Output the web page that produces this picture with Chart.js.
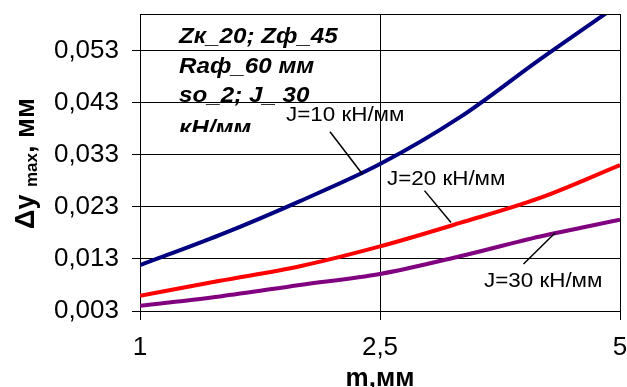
<!DOCTYPE html>
<html>
<head>
<meta charset="utf-8">
<script src="https://cdn.jsdelivr.net/npm/chart.js@4.4.1/dist/chart.umd.min.js"></script>
<style>
  html, body { margin: 0; padding: 0; background: #fff; }
  canvas { display: block; }
</style>
</head>
<body>
<canvas id="chart" width="627" height="387"></canvas>
<script>
// m, mm (categories; only 1, 2,5 and 5 get ticks)
const mLabels = ['1', '1,5', '2', '2,5', '3', '4', '5'];
const xTickIdx = [0, 3, 6];
const yTicks = [0.003, 0.013, 0.023, 0.033, 0.043, 0.053];

// delta y max, mm
const j10 = [0.0118, 0.0176, 0.0241, 0.0312, 0.0402, 0.0513, 0.0620];
const j20 = [0.0059, 0.0088, 0.0116, 0.0154, 0.0199, 0.0247, 0.0310];
const j30 = [0.0040, 0.0058, 0.0080, 0.0101, 0.0135, 0.0173, 0.0205];

const seriesNames = ['J=10 кН/мм', 'J=20 кН/мм', 'J=30 кН/мм'];
const infoLines = ['Zк_20; Zф_45', 'Raф_60 мм', 'so_2; J_ 30', 'кН/мм'];

const FONT = "'Liberation Sans', Arial, sans-serif";

// label anchors in data units: [text x, text y, line x1, y1, x2, y2]
const labelAnchors = [
  [1.825, 0.0395, 2.375, 0.0374, 2.784, 0.0292],
  [3.0875, 0.0271, 3.556, 0.0261, 3.8875, 0.0200],
  [4.30, 0.00758, 4.794, 0.01203, 5.1875, 0.01797]
];

const extras = {
  id: 'extras',
  afterDraw(chart) {
    const { ctx, chartArea: a, scales: { x, y } } = chart;
    ctx.save();

    // top border of plot
    ctx.strokeStyle = '#000';
    ctx.lineWidth = 1;
    ctx.beginPath();
    ctx.moveTo(a.left, Math.round(a.top) + 0.5);
    ctx.lineTo(a.right, Math.round(a.top) + 0.5);
    ctx.stroke();

    // info text box, cut off like in the original
    ctx.save();
    ctx.beginPath();
    ctx.rect(a.left + 1, a.top + 1, 220, 117);
    ctx.clip();
    ctx.fillStyle = '#000';
    ctx.font = 'italic bold 22px ' + FONT;
    ctx.textBaseline = 'alphabetic';
    const baselines = [29, 58.5, 88, 121];
    infoLines.forEach((t, i) => {
      ctx.save();
      ctx.translate(a.left + 39, a.top + baselines[i]);
      ctx.scale(1.1, 1);
      ctx.fillText(t, 0, 0);
      ctx.restore();
    });
    ctx.restore();

    // series labels with leader lines
    ctx.font = '20px ' + FONT;
    ctx.fillStyle = '#000';
    ctx.strokeStyle = '#000';
    ctx.lineWidth = 1.5;
    labelAnchors.forEach((p, i) => {
      ctx.beginPath();
      ctx.moveTo(x.getPixelForValue(p[2]), y.getPixelForValue(p[3]));
      ctx.lineTo(x.getPixelForValue(p[4]), y.getPixelForValue(p[5]));
      ctx.stroke();
      ctx.save();
      ctx.translate(x.getPixelForValue(p[0]), y.getPixelForValue(p[1]));
      ctx.scale(1.12, 1);
      ctx.fillText(seriesNames[i], 0, 0);
      ctx.restore();
    });

    // x axis title
    ctx.font = 'bold 26px ' + FONT;
    ctx.textAlign = 'center';
    ctx.fillText('m,мм', (a.left + a.right) / 2, 386);

    // y axis title: Δy max, мм (rotated, with subscript)
    ctx.save();
    ctx.translate(34, 229);
    ctx.rotate(-Math.PI / 2);
    ctx.textAlign = 'left';
    let cx = 0;
    ctx.font = 'bold 27px ' + FONT;
    ctx.fillText('Δy ', cx, 0);
    cx += ctx.measureText('Δy ').width;
    ctx.font = 'bold 17px ' + FONT;
    ctx.fillText('max', cx, 3);
    cx += ctx.measureText('max').width;
    ctx.font = 'bold 27px ' + FONT;
    ctx.fillText(', мм', cx, 0);
    ctx.restore();

    ctx.restore();
  }
};

new Chart(document.getElementById('chart'), {
  type: 'line',
  data: {
    labels: mLabels,
    datasets: [
      { label: seriesNames[0], data: j10, borderColor: '#000080' },
      { label: seriesNames[1], data: j20, borderColor: '#ff0000' },
      { label: seriesNames[2], data: j30, borderColor: '#800080' }
    ]
  },
  options: {
    responsive: false,
    animation: false,
    devicePixelRatio: 1,
    layout: { padding: { top: 14, right: 7, left: 0, bottom: 0 } },
    elements: {
      line: { borderWidth: 4, cubicInterpolationMode: 'monotone', fill: false },
      point: { radius: 0 }
    },
    datasets: { line: { clip: 0 } },
    plugins: { legend: { display: false }, tooltip: { enabled: false } },
    scales: {
      x: {
        type: 'category',
        offset: false,
        afterBuildTicks: s => { s.ticks = xTickIdx.map(v => ({ value: v })); },
        afterFit: s => { s.height = 76; s.paddingLeft = 0; s.paddingRight = 0; },
        grid: { color: '#000', lineWidth: 1, tickLength: 9 },
        border: { display: true, color: '#000', width: 1 },
        ticks: {
          autoSkip: false, maxRotation: 0, padding: 12, color: '#000',
          font: { family: FONT, size: 26 }
        }
      },
      y: {
        min: 0.003,
        max: 0.06,
        afterBuildTicks: s => { s.ticks = yTicks.map(v => ({ value: v })); },
        afterFit: s => { s.width = 140; s.paddingTop = 0; s.paddingBottom = 0; },
        grid: { color: '#000', lineWidth: 1, tickLength: 8 },
        border: { display: true, color: '#000', width: 1 },
        ticks: {
          padding: 13, color: '#000',
          font: { family: FONT, size: 26 },
          callback: v => v.toFixed(3).replace('.', ',')
        }
      }
    }
  },
  plugins: [extras]
});
</script>
</body>
</html>
